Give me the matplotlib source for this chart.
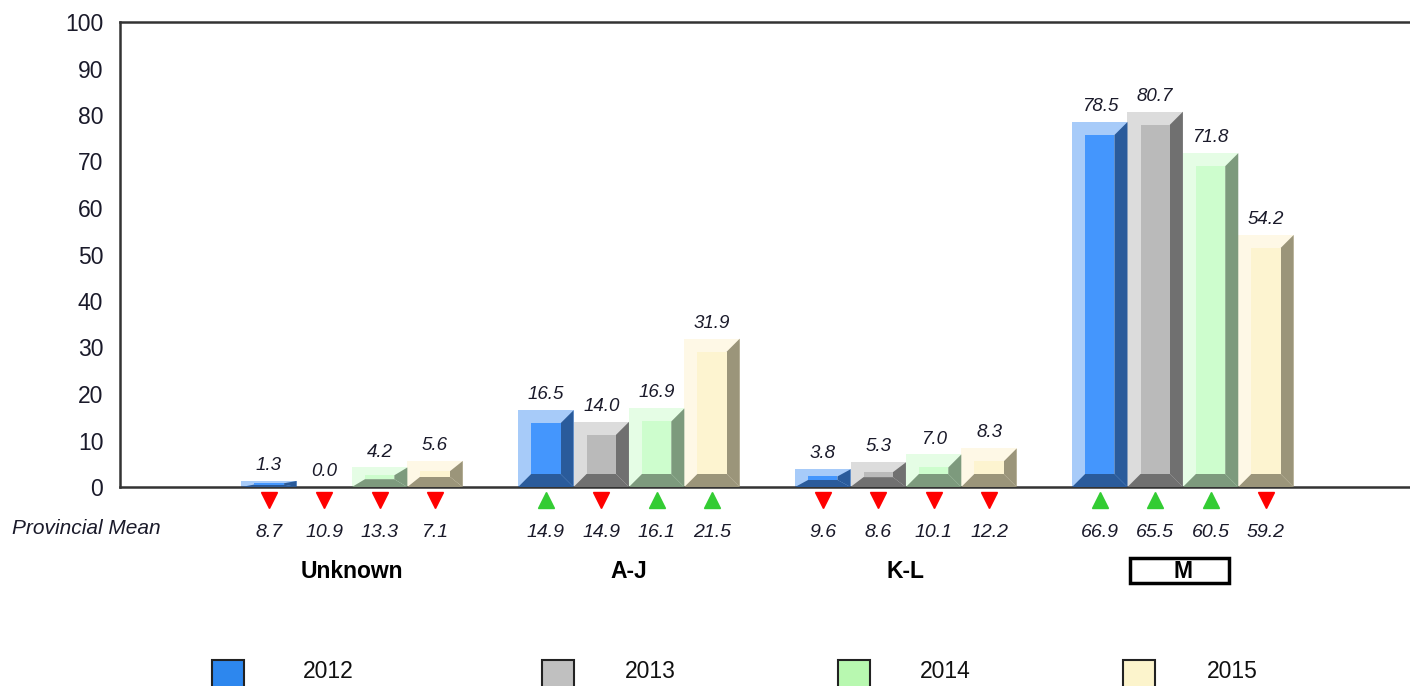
import matplotlib.pyplot as plt
import numpy as np
from matplotlib.patches import Polygon, Rectangle

# Data
categories = ['Unknown', 'A-J', 'K-L', 'M']
years = ['2012', '2013', '2014', '2015']

v2012 = [1.3, 16.5, 3.8, 78.5]
v2013 = [0.0, 14.0, 5.3, 80.7]
v2014 = [4.2, 16.9, 7.0, 71.8]
v2015 = [5.6, 31.9, 8.3, 54.2]

mean2012 = [8.7, 14.9, 9.6, 66.9]
mean2013 = [10.9, 14.9, 8.6, 65.5]
mean2014 = [13.3, 16.1, 10.1, 60.5]
mean2015 = [7.1, 21.5, 12.2, 59.2]

series = [v2012, v2013, v2014, v2015]
means = [mean2012, mean2013, mean2014, mean2015]

# bevel colours: light edge, face, dark edge
light = ['#a7cbf9', '#dcdcdc', '#e5fde5', '#fef8e6']
face = ['#4496fd', '#bababa', '#cdfdcd', '#fdf4d0']
dark = ['#2a5b9b', '#707070', '#7d9a7d', '#9b957a']
legend_colors = ['#2d87ee', '#c0c0c0', '#b8f8b0', '#fcf4cc']

plt.rcParams['font.family'] = ['Liberation Sans', 'DejaVu Sans']

fig = plt.figure(figsize=(14.1, 6.86), dpi=100)
ax = fig.add_axes([120 / 1410, 1 - 487 / 686, 1 - 120 / 1410, (487 - 22) / 686])

x = np.arange(len(categories))
width = 0.2
bx = 0.047   # ширина фаски по x
by_max = 2.8  # высота фаски по y

for k, vals in enumerate(series):
    pos = x + (k - 1.5) * width
    ax.bar(pos, vals, width, color=light[k], linewidth=0, zorder=2)
    for xc, h in zip(pos, vals):
        if h <= 0:
            continue
        x0, x1 = xc - width / 2, xc + width / 2
        by = min(by_max, h * 0.4)
        # правая тёмная грань
        ax.add_patch(Polygon([(x1, h), (x1, 0), (x1 - bx, by), (x1 - bx, h - by)],
                             closed=True, facecolor=dark[k], edgecolor='none', zorder=3))
        # нижняя тёмная грань
        ax.add_patch(Polygon([(x0, 0), (x1, 0), (x1 - bx, by), (x0 + bx, by)],
                             closed=True, facecolor=dark[k], edgecolor='none', zorder=3))
        # лицевая часть
        ax.add_patch(Rectangle((x0 + bx, by), width - 2 * bx, max(h - 2 * by, 0),
                               facecolor=face[k], edgecolor='none', zorder=4))
    for xc, h in zip(pos, vals):
        ax.annotate(f'{h:.1f}', (xc, h), xytext=(0, 5), textcoords='offset points',
                    ha='center', va='bottom', fontsize=13.5, style='italic', color='#1a1a2a')

# Provincial mean markers and values
for k, (vals, mvals) in enumerate(zip(series, means)):
    pos = x + (k - 1.5) * width
    for xc, v, m in zip(pos, vals, mvals):
        if v > m:
            ax.plot(xc, -2.8, marker='^', color='#33cc33', markersize=11, linestyle='none', clip_on=False)
        else:
            ax.plot(xc, -2.8, marker='v', color='#ff0000', markersize=11, linestyle='none', clip_on=False)
        ax.text(xc, -9.7, f'{m:.1f}', ha='center', va='center', fontsize=14,
                style='italic', color='#1a1a2a', clip_on=False)

for i, cat in enumerate(categories):
    ax.text(x[i], -18.1, cat, ha='center', va='center', fontsize=16.5,
            fontweight='bold', color='#000000', clip_on=False)

# рамка вокруг выделенной категории
ax.add_patch(Rectangle((x[3] - 0.19, -20.6), 0.357, 5.3, fill=False, edgecolor='black',
                       linewidth=2.5, clip_on=False))

fig.text(12 / 1410, 1 - 528 / 686, 'Provincial Mean', ha='left', va='center',
         fontsize=15, style='italic', color='#1a1a2a')

ax.set_xlim(-0.8375, 3.82)
ax.set_ylim(0, 100)
ax.set_yticks(np.arange(0, 101, 10))
ax.tick_params(axis='y', length=0, pad=12, labelsize=16.5, labelcolor='#1a1a2a')
ax.set_xticks([])
for s in ['left', 'top', 'bottom']:
    ax.spines[s].set_color('#333333')
    ax.spines[s].set_linewidth(1.8)
ax.spines['right'].set_visible(False)

# Legend
sw_x = [212, 542, 838, 1123]
lab_x = [303, 625, 920, 1207]
for k, yr in enumerate(years):
    fig.patches.append(Rectangle((sw_x[k] / 1410, -0.01), 32 / 1410, (26 / 686) + 0.01,
                                 transform=fig.transFigure, facecolor=legend_colors[k],
                                 edgecolor='#222222', linewidth=1.5))
    fig.text(lab_x[k] / 1410, 1 - 672 / 686, yr, ha='left', va='center', fontsize=16.5,
             color='#111111')

plt.savefig('out.png', dpi=100)
